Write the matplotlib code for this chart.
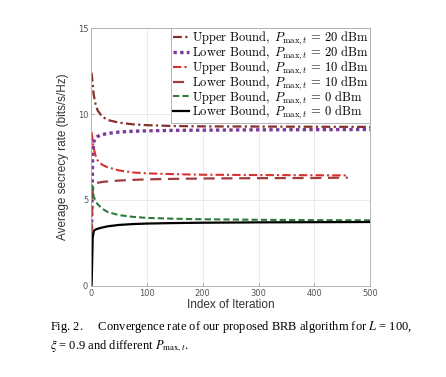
import numpy as np
import matplotlib
matplotlib.use('Agg')
import matplotlib.pyplot as plt
from matplotlib.font_manager import FontProperties

# iteration indices
it_full = [1, 2, 3, 5, 8, 12, 20, 30, 50, 75, 100, 150, 200, 300, 400, 500]
it_short = [1, 2, 3, 5, 8, 12, 20, 30, 50, 75, 100, 150, 200, 300, 400, 460]

ub_20 = [12.4, 12.1, 11.7, 11.1, 10.6, 10.2, 9.85, 9.65, 9.5, 9.4, 9.35, 9.3, 9.28, 9.27, 9.26, 9.25]
lb_20 = [3.3, 5.5, 7.6, 8.4, 8.6, 8.7, 8.8, 8.87, 8.95, 9.0, 9.02, 9.05, 9.06, 9.08, 9.09, 9.1]
ub_10 = [8.95, 8.7, 8.4, 8.0, 7.6, 7.3, 7.05, 6.9, 6.72, 6.6, 6.55, 6.5, 6.47, 6.45, 6.44, 6.43]
lb_10 = [3.0, 4.5, 5.5, 5.85, 5.95, 6.0, 6.05, 6.08, 6.13, 6.17, 6.2, 6.23, 6.25, 6.27, 6.28, 6.3]
ub_0 = [5.9, 5.8, 5.5, 5.2, 4.95, 4.75, 4.5, 4.3, 4.12, 4.02, 3.96, 3.91, 3.88, 3.85, 3.83, 3.82]
lb_0 = [0.0, 1.2, 2.8, 3.2, 3.28, 3.33, 3.4, 3.47, 3.55, 3.6, 3.63, 3.66, 3.68, 3.7, 3.71, 3.72]

labels = [r'$\mathrm{Upper\ Bound},\ P_{\max,t}\,=\,20\ \mathrm{dBm}$',
          r'$\mathrm{Lower\ Bound},\ P_{\max,t}\,=\,20\ \mathrm{dBm}$',
          r'$\mathrm{Upper\ Bound},\ P_{\max,t}\,=\,10\ \mathrm{dBm}$',
          r'$\mathrm{Lower\ Bound},\ P_{\max,t}\,=\,10\ \mathrm{dBm}$',
          r'$\mathrm{Upper\ Bound},\ P_{\max,t}\,=\,0\ \mathrm{dBm}$',
          r'$\mathrm{Lower\ Bound},\ P_{\max,t}\,=\,0\ \mathrm{dBm}$']

fig = plt.figure(figsize=(4.46, 3.77), dpi=100)
ax = fig.add_axes([0.204, 0.2414, 0.626, 0.6843])

ax.plot(it_full, ub_20, color='#84302a', lw=1.6, ls=(0, (4, 1.5, 1, 1.5)), label=labels[0])
ax.plot(it_full, lb_20, color='#7b3a9a', lw=2.4, ls=(0, (1, 1)), label=labels[1])
ax.plot(it_short, ub_10, color='#d8302f', lw=1.5, ls=(0, (4, 1.5, 1, 1.5)), label=labels[2])
ax.plot(it_short, lb_10, color='#a03c3c', lw=1.6, ls=(0, (5, 3)), label=labels[3])
ax.plot(it_full, ub_0, color='#2f7a3a', lw=1.5, ls=(0, (3, 1.5)), label=labels[4])
ax.plot(it_full, lb_0, color='black', lw=1.6, ls='-', label=labels[5])

ax.set_xlim(0, 500)
ax.set_ylim(0, 15)
ax.set_xticks([0, 100, 200, 300, 400, 500])
ax.set_yticks([0, 5, 10, 15])
ax.grid(True, color='#e6e6e6', lw=0.6)
ax.set_axisbelow(True)
ax.tick_params(direction='in', length=2.5, width=0.5, colors='#888888',
               labelsize=6, labelcolor='#555555', pad=2)
for s in ax.spines.values():
    s.set_color('#aaaaaa')
    s.set_linewidth(0.6)

ax.set_xlabel('Index of Iteration', fontsize=8.5, family='Liberation Sans',
              color='#333333', labelpad=1)
ax.set_ylabel('Average secrecy rate (bits/s/Hz)', fontsize=8.5,
              family='Liberation Sans', color='#333333', labelpad=6)

leg = ax.legend(loc='upper right', borderaxespad=0, fancybox=False,
                prop=FontProperties(size=9, math_fontfamily='cm'),
                handlelength=1.3, handletextpad=0.2, labelspacing=-0.22,
                borderpad=0.15, framealpha=1)
leg.get_frame().set_edgecolor('#aaaaaa')
leg.get_frame().set_linewidth(0.6)

cap_font = FontProperties(family='Liberation Serif', size=9, math_fontfamily='stix')
fig.text(0.112, 0.124,
         r'Fig. 2.     Convergence rate of our proposed BRB algorithm for $L$ = 100,',
         fontproperties=cap_font)
fig.text(0.112, 0.074, r'$\xi$ = 0.9 and different $P_{\max,t}$.',
         fontproperties=cap_font)

fig.savefig('out.png', dpi=100)
